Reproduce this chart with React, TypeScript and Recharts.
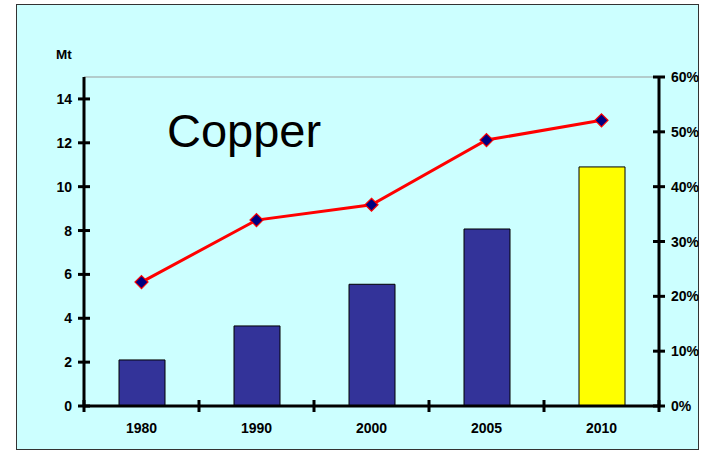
import { Bar, Cell, ComposedChart, Line, ReferenceLine, XAxis, YAxis } from "recharts";

const years = ["1980", "1990", "2000", "2005", "2010"];
const copperMt = [2.1, 3.65, 5.55, 8.07, 10.9];
const sharePct = [22.6, 33.9, 36.7, 48.5, 52.1];
const barColors = ["#333399", "#333399", "#333399", "#333399", "#FFFF00"];
const leftTicks = [0, 2, 4, 6, 8, 10, 12, 14];
const rightTicks = [0, 10, 20, 30, 40, 50, 60];

const data = years.map((year, i) => ({ year, mt: copperMt[i], share: sharePct[i] }));

const FONT = "'Liberation Sans', Arial, sans-serif";

function LeftTick({ x, y, payload }: any) {
  return (
    <g>
      <line x1={x - 6} x2={x + 6} y1={y} y2={y} stroke="#000" strokeWidth={3} />
      <text x={x - 12} y={y} dy={5} textAnchor="end" fontSize={14} fontWeight="bold" fontFamily={FONT} fill="#000">
        {payload.value}
      </text>
    </g>
  );
}

function RightTick({ x, y, payload }: any) {
  return (
    <g>
      <line x1={x - 6} x2={x + 6} y1={y} y2={y} stroke="#000" strokeWidth={3} />
      <text x={x + 12} y={y} dy={5} textAnchor="start" fontSize={14} fontWeight="bold" fontFamily={FONT} fill="#000">
        {`${payload.value}%`}
      </text>
    </g>
  );
}

function BottomTick({ x, y, payload, index, visibleTicksCount }: any) {
  const half = payload.offset ?? 57.5;
  return (
    <g>
      <line x1={x - half} x2={x - half} y1={y - 6} y2={y + 6} stroke="#000" strokeWidth={3} />
      {index === visibleTicksCount - 1 && (
        <line x1={x + half} x2={x + half} y1={y - 6} y2={y + 6} stroke="#000" strokeWidth={3} />
      )}
      <text x={x} y={y} dy={27} textAnchor="middle" fontSize={14} fontWeight="bold" fontFamily={FONT} fill="#000">
        {payload.value}
      </text>
    </g>
  );
}

function Diamond({ cx, cy }: any) {
  if (cx == null || cy == null) return null;
  const r = 6.5;
  return (
    <polygon
      points={`${cx},${cy - r} ${cx + r},${cy} ${cx},${cy + r} ${cx - r},${cy}`}
      fill="#000080"
      stroke="#FF0000"
      strokeWidth={1.2}
    />
  );
}

export default function App() {
  return (
    <div style={{ position: "absolute", left: 0, top: 0, width: 702, height: 452, background: "#fff" }}>
      <div
        style={{
          position: "absolute",
          left: 16,
          top: 4,
          width: 683,
          height: 446,
          boxSizing: "border-box",
          border: "1.5px solid #333",
          background: "#CCFFFF",
        }}
      />
      <div style={{ position: "absolute", left: 0, top: 0 }}>
        <ComposedChart width={702} height={452} data={data} margin={{ top: 77, left: 24, right: 3, bottom: 16 }}>
          <ReferenceLine yAxisId="left" y={15} stroke="#999" strokeWidth={1} />
          <XAxis
            dataKey="year"
            height={30}
            tickSize={0}
            tickMargin={0}
            tickLine={false}
            axisLine={{ stroke: "#000", strokeWidth: 3 }}
            tick={<BottomTick />}
            interval={0}
          />
          <YAxis
            yAxisId="left"
            orientation="left"
            width={60}
            domain={[0, 15]}
            ticks={leftTicks}
            tickSize={0}
            tickMargin={0}
            tickLine={false}
            axisLine={{ stroke: "#000", strokeWidth: 3 }}
            tick={<LeftTick />}
            interval={0}
          />
          <YAxis
            yAxisId="right"
            orientation="right"
            width={40}
            domain={[0, 60]}
            ticks={rightTicks}
            tickSize={0}
            tickMargin={0}
            tickLine={false}
            axisLine={{ stroke: "#000", strokeWidth: 3 }}
            tick={<RightTick />}
            interval={0}
          />
          <Bar yAxisId="left" dataKey="mt" barSize={46} stroke="#000" strokeWidth={1} isAnimationActive={false}>
            {data.map((d, i) => (
              <Cell key={d.year} fill={barColors[i]} />
            ))}
          </Bar>
          <Line
            yAxisId="right"
            dataKey="share"
            stroke="#FF0000"
            strokeWidth={3}
            dot={<Diamond />}
            activeDot={false}
            isAnimationActive={false}
          />
        </ComposedChart>
      </div>
      <svg width={702} height={452} style={{ position: "absolute", left: 0, top: 0, pointerEvents: "none" }}>
        <text x={56} y={59} fontSize={13.5} fontWeight="bold" fontFamily={FONT} fill="#000">
          Mt
        </text>
        <text x={167} y={147} fontSize={47} fontFamily={FONT} fill="#000">
          Copper
        </text>
      </svg>
    </div>
  );
}
